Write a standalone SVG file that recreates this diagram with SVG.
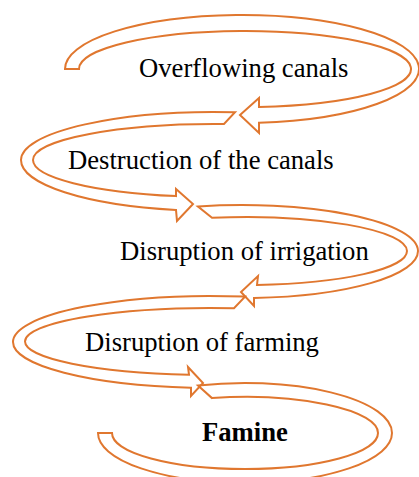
<svg xmlns="http://www.w3.org/2000/svg" width="419" height="477" viewBox="0 0 419 477">
<style>
.arr{fill:none;stroke:#E0772F;stroke-width:2;stroke-linejoin:miter}
.lbl{font-family:"Liberation Serif","Times New Roman",serif;font-size:26.67px;fill:#000}
.bold{font-weight:bold}
</style>
<rect width="419" height="477" fill="#fff"/>
<g id="connectors">
<path class="arr" d="M 65,69 A 177 54 0 1 1 259,122.7 L 259,133 L 240,115 L 259,98 L 259,106.9 A 166 38 0 1 0 79,69 Z"/>
<path class="arr" d="M 235,112.3 A 194 48 0 0 0 21,160 A 194 51 0 0 0 176,210 L 177,221 L 193,204 L 176,189 L 176,196.1 A 182 37 0 0 1 33,160 A 182 36 0 0 1 224,124 Z"/>
<path class="arr" d="M 198,206.5 A 176 46 0 0 1 418,251 A 176 47 0 0 1 254,297.9 L 254,306 L 241,292 L 258,276 L 257,284.9 A 162 34 0 0 0 407,251 A 162 34 0 0 0 212,217.7 Z"/>
<path class="arr" d="M 245,296.6 A 199 46 0 0 0 13,342 A 199 46 0 0 0 191,387.7 L 191,396 L 203,383 L 188,367 L 189,374.7 A 187 33.5 0 0 1 25,341.5 A 187 33.5 0 0 1 234,308.2 Z"/>
<path class="arr" d="M 198,385.6 A 147 50 0 0 1 392,433 A 147 50 0 0 1 245,483 A 147 50 0 0 1 98,433 L 112,433 A 133 36 0 0 0 245,469 A 133 36 0 0 0 378,433 A 133 36 0 0 0 212,398.1 Z"/>
</g>
<g id="node-overflowing"><text class="lbl" x="139" y="77">Overflowing canals</text></g>
<g id="node-destruction"><text class="lbl" x="68" y="168.5">Destruction of the canals</text></g>
<g id="node-irrigation"><text class="lbl" x="120" y="259.5">Disruption of irrigation</text></g>
<g id="node-farming"><text class="lbl" x="85" y="351">Disruption of farming</text></g>
<g id="node-famine"><text class="lbl bold" x="202" y="441">Famine</text></g>
</svg>
